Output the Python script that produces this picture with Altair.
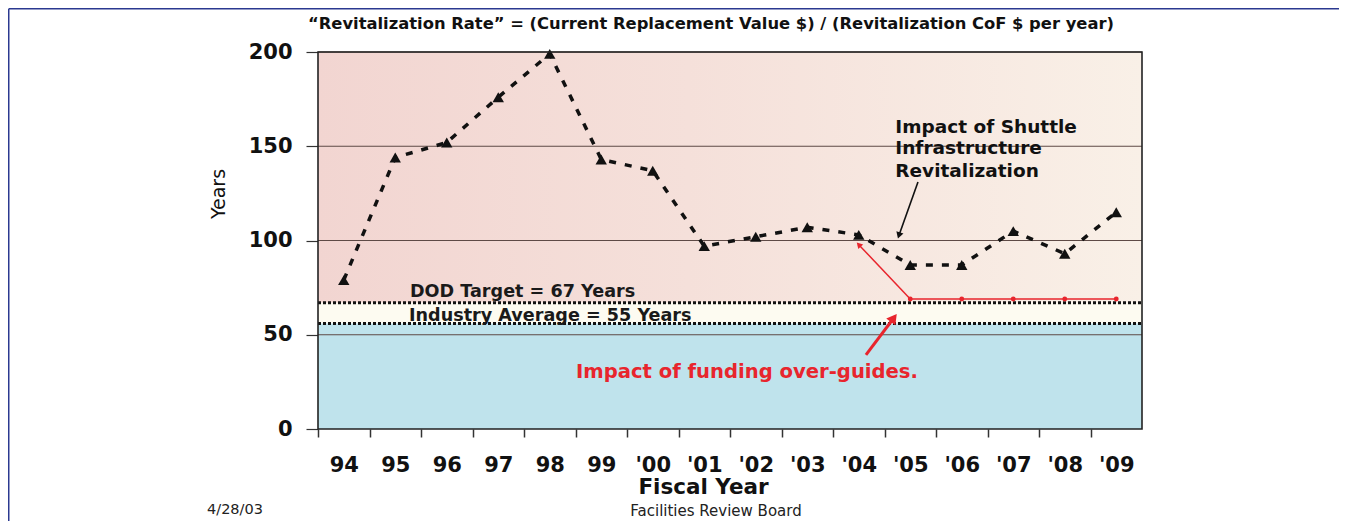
import json
import altair as alt
import pandas as pd

# ---------------- data ----------------
years = ["94", "95", "96", "97", "98", "99", "'00", "'01", "'02", "'03",
         "'04", "'05", "'06", "'07", "'08", "'09"]
rate = [79, 144, 152, 176, 199, 143, 137, 97, 102, 107,
        103, 87, 87, 105, 93, 115]
guide_years = ["'05", "'06", "'07", "'08", "'09"]
guide_rate = [69, 69, 69, 69, 69]
y_ticks = [0, 50, 100, 150, 200]
y_grid = [50, 100, 150, 200]
dod_target = 67
industry_avg = 56
y_max = 200
n_bands = len(years)

FONT = "DejaVu Sans"
RED = "#e8252d"
W, H = 824, 377
BAND = W / n_bands

# category positions on a continuous axis: band centres
pos = {y: i + 0.5 for i, y in enumerate(years)}

xq = alt.Scale(domain=[0, n_bands], nice=False, zero=False)
ys = alt.Scale(domain=[0, y_max], nice=False, zero=True)


def qx(field):
    return alt.X(field, type="quantitative", scale=xq)


def qy(field):
    return alt.Y(field, type="quantitative", scale=ys)


# ---------------- axes (carried by the data line layer) ----------------
tick_vals = [i + 0.5 for i in range(n_bands + 1)]
x_axis = alt.Axis(
    title="Fiscal Year", values=tick_vals, grid=False, domain=False,
    labelExpr=json.dumps(years + [""]) + "[floor(datum.value)]",
    tickOffset=-BAND / 2, labelOffset=BAND / 2, labelAngle=0, labelFlush=False,
    labelOverlap=False,
    labelFont=FONT, labelFontSize=21, labelFontWeight="bold", labelColor="#111111",
    labelPadding=17, tickSize=8, tickColor="#333333", tickWidth=1.5,
    titleFont=FONT, titleFontSize=21.5, titleFontWeight="bold", titleColor="#111111",
    titleX=385, titleY=64.5, titleBaseline="alphabetic", titleAlign="center",
)
y_axis = alt.Axis(
    title="Years", values=y_ticks, grid=False, domain=False,
    labelFont=FONT, labelFontSize=21, labelFontWeight="bold", labelColor="#111111",
    labelPadding=14, tickSize=12, tickColor="#333333", tickWidth=1.2,
    titleFont=FONT, titleFontSize=19, titleFontWeight="normal", titleColor="#111111",
    titleX=-99.5, titleY=141.5, titleAngle=270, titleAlign="center", titleBaseline="middle",
)

df = pd.DataFrame({"year": years, "x": [pos[y] for y in years], "rate": rate})
gdf = pd.DataFrame({"year": guide_years, "x": [pos[y] for y in guide_years], "rate": guide_rate})

# ---------------- background ----------------
pink = alt.Chart(pd.DataFrame({"x0": [0], "x1": [n_bands], "y0": [dod_target], "y1": [y_max]})).mark_rect(
    fill=alt.Gradient(
        gradient="linear",
        stops=[alt.GradientStop(color="#f2d5d1", offset=0),
               alt.GradientStop(color="#f5e0da", offset=0.45),
               alt.GradientStop(color="#f9f0e7", offset=1)],
        x1=0, x2=1, y1=0, y2=0),
).encode(x=qx("x0"), x2="x1", y=qy("y0"), y2="y1")

cream = alt.Chart(pd.DataFrame({"x0": [0], "x1": [n_bands], "y0": [industry_avg], "y1": [dod_target]})).mark_rect(
    fill="#fdfbf1"
).encode(x=qx("x0"), x2="x1", y=qy("y0"), y2="y1")

blue = alt.Chart(pd.DataFrame({"x0": [0], "x1": [n_bands], "y0": [0], "y1": [industry_avg]})).mark_rect(
    fill="#bfe3ec"
).encode(x=qx("x0"), x2="x1", y=qy("y0"), y2="y1")

grid = alt.Chart(pd.DataFrame({"y": y_grid, "x0": [0] * len(y_grid), "x1": [n_bands] * len(y_grid)})).mark_rule(
    color="#5e4a46", strokeWidth=1.2
).encode(x=qx("x0"), x2="x1", y=qy("y"))

targets = alt.Chart(pd.DataFrame({"y": [dod_target, industry_avg], "x0": [0, 0], "x1": [n_bands, n_bands]})).mark_rule(
    color="#111111", strokeWidth=3, strokeDash=[3, 2]
).encode(x=qx("x0"), x2="x1", y=qy("y"))

# ---------------- data marks ----------------
line = alt.Chart(df).mark_line(color="#111111", strokeWidth=3.5, strokeDash=[7, 9]).encode(
    x=alt.X("x:Q", scale=xq, axis=x_axis),
    y=alt.Y("rate:Q", scale=ys, axis=y_axis),
)
pts = alt.Chart(df).mark_point(shape="triangle-up", filled=True, size=130, color="#111111", opacity=1).encode(
    x=qx("x"), y=qy("rate"))
guide = alt.Chart(gdf).mark_line(color=RED, strokeWidth=1.6).encode(x=qx("x"), y=qy("rate"))
gdots = alt.Chart(gdf).mark_circle(color=RED, size=24, opacity=1).encode(x=qx("x"), y=qy("rate"))

# ---------------- annotations ----------------
shuttle_arrow = pd.DataFrame({"x": [11.65, 11.28], "y": [131, 102.7]})
guide_arrow = pd.DataFrame({"x": [pos["'05"], 10.50], "y": [guide_rate[0], 97.8]})
funding_arrow = pd.DataFrame({"x": [10.64, 11.18], "y": [39.3, 58.9]})

a1 = alt.Chart(shuttle_arrow).mark_line(color="#111111", strokeWidth=1.6).encode(x=qx("x"), y=qy("y"))
h1 = alt.Chart(shuttle_arrow.tail(1)).mark_point(shape="triangle-up", filled=True, size=55, color="#111111",
                                               opacity=1, angle=198).encode(x=qx("x"), y=qy("y"))
a2 = alt.Chart(guide_arrow).mark_line(color=RED, strokeWidth=1.5).encode(x=qx("x"), y=qy("y"))
h2 = alt.Chart(guide_arrow.tail(1)).mark_point(shape="triangle-up", filled=True, size=45, color=RED,
                                             opacity=1, angle=317).encode(x=qx("x"), y=qy("y"))
a3 = alt.Chart(funding_arrow).mark_line(color=RED, strokeWidth=3).encode(x=qx("x"), y=qy("y"))
h3 = alt.Chart(funding_arrow.tail(1)).mark_point(shape="triangle-up", filled=True, size=130, color=RED,
                                               opacity=1, angle=37).encode(x=qx("x"), y=qy("y"))

target_text = pd.DataFrame({
    "x": [1.786, 1.767],
    "y": [69.9, 57.5],
    "t": ["DOD Target = 67 Years", "Industry Average = 55 Years"],
})
t_targets = alt.Chart(target_text).mark_text(
    align="left", baseline="alphabetic", font=FONT, fontSize=17.6, fontWeight="bold", color="#1a1a1a"
).encode(x=qx("x"), y=qy("y"), text="t:N")

shuttle_text = pd.DataFrame({
    "x": [11.21, 11.21, 11.21],
    "y": [157.2, 145.9, 133.7],
    "t": ["Impact of Shuttle", "Infrastructure", "Revitalization"],
})
t_shuttle = alt.Chart(shuttle_text).mark_text(
    align="left", baseline="alphabetic", font=FONT, fontSize=18.5, fontWeight="bold", color="#111111"
).encode(x=qx("x"), y=qy("y"), text="t:N")

funding_text = pd.DataFrame({"x": [5.01], "y": [26.9], "t": ["Impact of funding over-guides."]})
t_funding = alt.Chart(funding_text).mark_text(
    align="left", baseline="alphabetic", font=FONT, fontSize=19.6, fontWeight="bold", color=RED
).encode(x=qx("x"), y=qy("y"), text="t:N")

title_text = pd.DataFrame({
    "x": [-0.194], "y": [212.2],
    "t": ["\u201cRevitalization Rate\u201d = (Current Replacement Value $) / (Revitalization CoF $ per year)"],
})
t_title = alt.Chart(title_text).mark_text(
    align="left", baseline="alphabetic", font=FONT, fontSize=16.35, fontWeight="bold", color="#111111"
).encode(x=qx("x"), y=qy("y"), text="t:N")

footer = pd.DataFrame({
    "x": [-2.155, 7.728],
    "y": [-45.2, -46.2],
    "t": ["4/28/03", "Facilities Review Board"],
})
t_foot_l = alt.Chart(footer.head(1)).mark_text(
    align="left", baseline="alphabetic", font=FONT, fontSize=14.5, color="#222222"
).encode(x=qx("x"), y=qy("y"), text="t:N")
t_foot_c = alt.Chart(footer.tail(1)).mark_text(
    align="center", baseline="alphabetic", font=FONT, fontSize=15, color="#222222"
).encode(x=qx("x"), y=qy("y"), text="t:N")

border = alt.Chart(pd.DataFrame({"x0": [0], "x1": [n_bands], "y0": [0], "y1": [y_max]})).mark_rect(
    fillOpacity=0, fill="white", stroke="#222222", strokeWidth=1.6
).encode(x=qx("x0"), x2="x1", y=qy("y0"), y2="y1")

frame_top = alt.Chart(pd.DataFrame({"x0": [-6.005], "x1": [21], "y": [222.9]})).mark_rule(
    color="#2b3990", strokeWidth=1.5
).encode(x=qx("x0"), x2="x1", y=qy("y"))
frame_left = alt.Chart(pd.DataFrame({"x": [-6.005], "y0": [222.9], "y1": [-60]})).mark_rule(
    color="#2b3990", strokeWidth=1.5
).encode(x=qx("x"), y=qy("y0"), y2="y1")

chart = alt.layer(
    pink, cream, blue, grid, targets,
    line, pts, guide, gdots,
    a1, h1, a2, h2, a3, h3,
    t_targets, t_shuttle, t_funding, t_title, t_foot_l, t_foot_c,
    border, frame_top, frame_left,
).properties(
    width=W, height=H,
    padding={"left": 310, "top": 44, "right": 197, "bottom": 92},
    autosize=alt.AutoSizeParams(type="none"),
    background="white",
).configure_view(strokeWidth=0)

chart.save("out.html", embed_options={"renderer": "svg", "actions": False})
